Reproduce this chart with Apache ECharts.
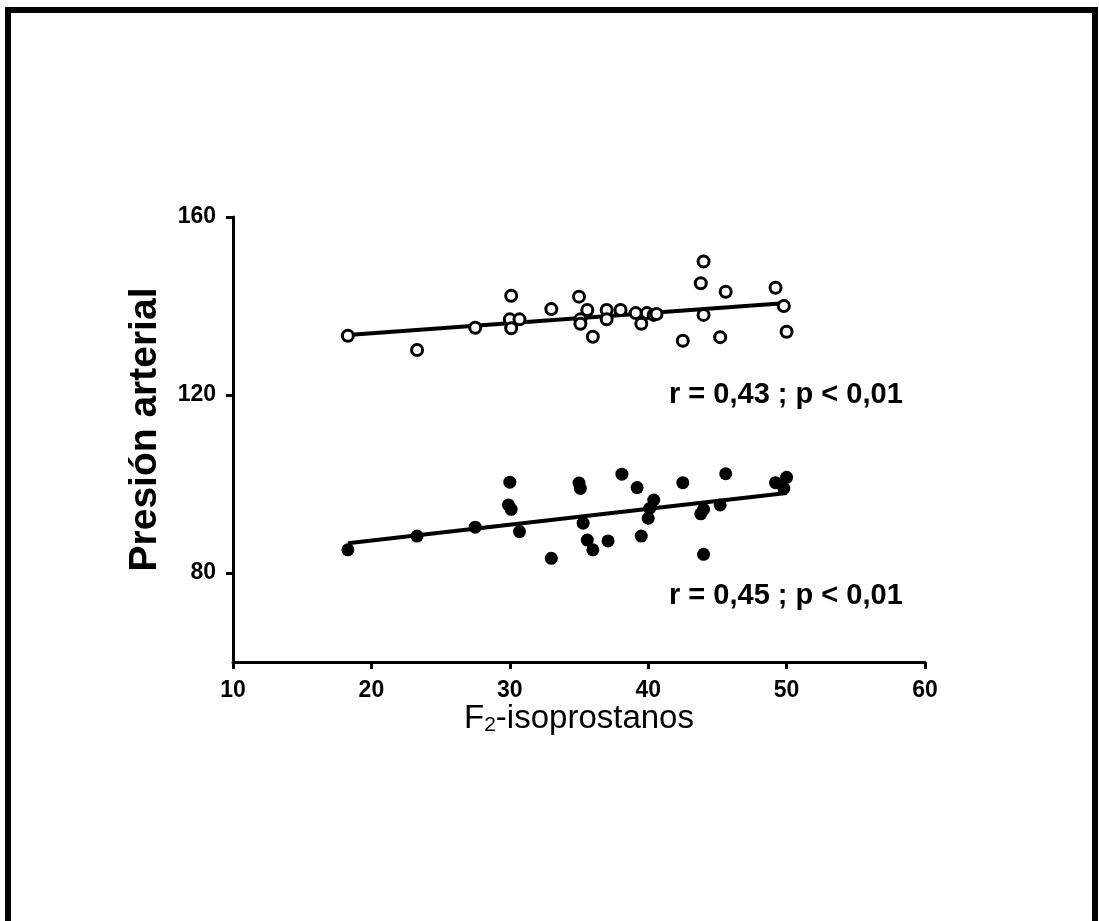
<!DOCTYPE html>
<html>
<head>
<meta charset="utf-8">
<script src="https://cdn.jsdelivr.net/npm/echarts@6/dist/echarts.min.js"></script>
<style>
html,body{margin:0;padding:0;background:#fff;}
#chart{width:1099px;height:921px;}
</style>
</head>
<body>
<div id="chart"></div>
<script>
// Open circles (upper group)
const openX = [18.3, 23.3, 27.5, 30.1, 30.0, 30.7, 30.1, 33.0, 35.0, 35.6, 35.1, 35.1, 36.0, 37.0, 37.0, 38.0, 39.1, 39.5, 39.9, 40.4, 40.6, 44.0, 43.8, 45.6, 44.0, 42.5, 45.2, 49.2, 49.8, 50.0];
const openY = [133.3, 130.1, 135.1, 142.3, 137.0, 137.0, 135.0, 139.3, 142.1, 139.1, 137.0, 136.0, 133.1, 139.1, 137.0, 139.1, 138.4, 136.0, 138.4, 138.0, 138.2, 150.0, 145.1, 143.2, 138.0, 132.2, 133.0, 144.1, 140.0, 134.2];
// Filled dots (lower group)
const fillX = [18.3, 23.3, 27.5, 30.0, 29.9, 30.1, 30.7, 33.0, 35.0, 35.1, 35.3, 35.6, 36.0, 37.1, 38.1, 39.2, 39.5, 40.4, 40.1, 40.0, 42.5, 45.6, 44.0, 43.8, 45.2, 44.0, 49.2, 50.0, 49.8];
const fillY = [85.2, 88.3, 90.3, 100.4, 95.3, 94.3, 89.3, 83.3, 100.2, 99.0, 91.2, 87.4, 85.2, 87.2, 102.2, 99.2, 88.3, 96.4, 94.5, 92.3, 100.3, 102.3, 94.3, 93.3, 95.3, 84.2, 100.3, 101.5, 99.0];
// Regression lines (endpoints)
const openLineX = [18.3, 50.0];
const openLineY = [133.5, 140.7];
const fillLineX = [18.3, 50.0];
const fillLineY = [86.7, 98.0];
// Axis ticks
const xTicks = [10, 20, 30, 40, 50, 60];
const yTicks = [80, 120, 160];
const annotations = ['r = 0,43 ; p < 0,01', 'r = 0,45 ; p < 0,01'];

const zip = (xs, ys) => xs.map((x, i) => [x, ys[i]]);
const FONT = '"Liberation Sans", Arial, sans-serif';

const chart = echarts.init(document.getElementById('chart'), null, {renderer: 'canvas'});
chart.setOption({
  backgroundColor: '#fff',
  animation: false,
  grid: {left: 233, right: 174, top: 217, bottom: 259},
  xAxis: {
    type: 'value', min: 10, max: 60, interval: 10,
    axisLine: {show: true, lineStyle: {color: '#000', width: 3}},
    axisTick: {show: true, length: 7, lineStyle: {color: '#000', width: 3}, customValues: xTicks},
    axisLabel: {color: '#000', fontFamily: FONT, fontWeight: 'bold', fontSize: 23, margin: 17, customValues: xTicks},
    splitLine: {show: false},
    name: '{a|F}{sub|2}{a|-isoprostanos}',
    nameLocation: 'middle', nameGap: 31,
    nameTextStyle: {
      rich: {
        a: {fontFamily: FONT, fontSize: 33, color: '#000', verticalAlign: 'bottom'},
        sub: {fontFamily: FONT, fontSize: 21, color: '#000', verticalAlign: 'bottom', padding: [12, 0, 0, 0]}
      }
    }
  },
  yAxis: {
    type: 'value', min: 60, max: 160,
    axisLine: {show: true, lineStyle: {color: '#000', width: 3}},
    axisTick: {show: true, length: 7, lineStyle: {color: '#000', width: 3}, customValues: yTicks},
    axisLabel: {color: '#000', fontFamily: FONT, fontWeight: 'bold', fontSize: 23, margin: 17, customValues: yTicks},
    splitLine: {show: false},
    name: 'Presión arterial',
    nameLocation: 'middle', nameGap: 68,
    nameTextStyle: {fontFamily: FONT, fontSize: 39, fontWeight: 'bold', color: '#000', padding: [0, 0, 0, 20]}
  },
  series: [
    {type: 'line', data: zip(openLineX, openLineY), symbol: 'none', lineStyle: {color: '#000', width: 4}, z: 2},
    {type: 'line', data: zip(fillLineX, fillLineY), symbol: 'none', lineStyle: {color: '#000', width: 4}, z: 2},
    {type: 'scatter', data: zip(openX, openY), symbol: 'circle', symbolSize: 11,
     itemStyle: {color: '#fff', borderColor: '#000', borderWidth: 3, opacity: 1}, z: 3},
    {type: 'scatter', data: zip(fillX, fillY), symbol: 'circle', symbolSize: 13,
     itemStyle: {color: '#000', opacity: 1}, z: 3}
  ],
  graphic: [
    {type: 'rect', shape: {x: 8, y: 10, width: 1087, height: 930},
     style: {fill: 'none', stroke: '#000', lineWidth: 6}, z: 10},
    {type: 'text', x: 669, y: 395,
     style: {text: annotations[0], font: 'bold 29px ' + FONT, fill: '#000', verticalAlign: 'middle'}},
    {type: 'text', x: 669, y: 596,
     style: {text: annotations[1], font: 'bold 29px ' + FONT, fill: '#000', verticalAlign: 'middle'}}
  ]
});
</script>
</body>
</html>
